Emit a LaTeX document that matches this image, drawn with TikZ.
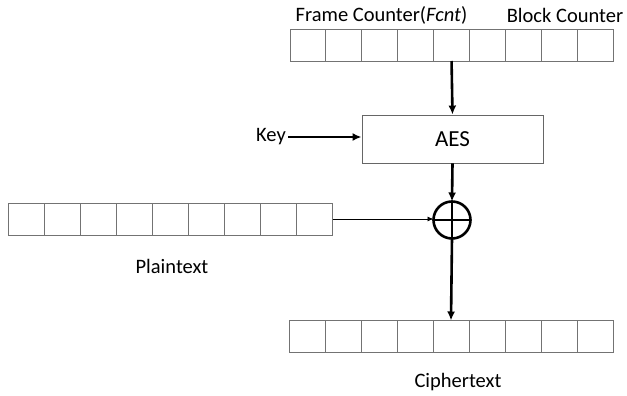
\documentclass[tikz,border=0pt]{standalone}
\usepackage{fontspec}
\setmainfont{Carlito}
\usetikzlibrary{arrows.meta}
\begin{document}
\begin{tikzpicture}[x=1pt,y=-1pt,
  cell/.style={draw=black!55,line width=0.9pt,minimum width=35.9pt,minimum height=32pt,inner sep=0pt,outer sep=0pt},
  lbl/.style={font=\fontsize{20.5}{24}\selectfont,inner sep=0pt},
  thick arrow/.style={line width=2.6pt,-{Latex[length=9pt,width=8pt]}},
  thin arrow/.style={line width=0.8pt,-{Latex[length=6pt,width=5pt]}}]
\useasboundingbox (0,0) rectangle (627,396);
\foreach \i in {1,...,9}{
  \node[cell] (t\i) at ({290+35.9*(\i-0.5)},45) {};
  \node[cell] (p\i) at ({8+36.1*(\i-0.5)},219) {};
  \node[cell] (c\i) at ({289+36*(\i-0.5)},336.5) {};
}
\node[lbl] (fc) at (381.5,15) {Frame Counter(\textit{Fcnt})};
\node[lbl] (bc) at (565,15) {Block Counter};
\node[draw=black!60,line width=0.9pt,minimum width=181pt,minimum height=48pt,inner sep=0pt,font=\fontsize{23}{27}\selectfont] (aes) at (452.5,139) {AES};
\node[lbl,anchor=east] (key) at (286,137) {Key};
\node[circle,draw,line width=2.6pt,minimum size=37pt,inner sep=0pt,outer sep=0pt] (xor) at (452,220) {};
\draw[line width=2.2pt] (xor.north) -- (xor.south) (xor.west) -- (xor.east);
\node[lbl] (pt) at (172,266) {Plaintext};
\node[lbl] (ct) at (458,382) {Ciphertext};
\draw[thick arrow] (t5.south) -- (aes.north);
\draw[thick arrow] ([xshift=2pt]key.east) -- (key.east -| aes.west);
\draw[thick arrow] (aes.south) -- (xor.north);
\draw[thin arrow] (p9.east) -- (p9.east -| xor.west);
\draw[thick arrow] (xor.south) -- (c5.north);
\end{tikzpicture}
\end{document}
